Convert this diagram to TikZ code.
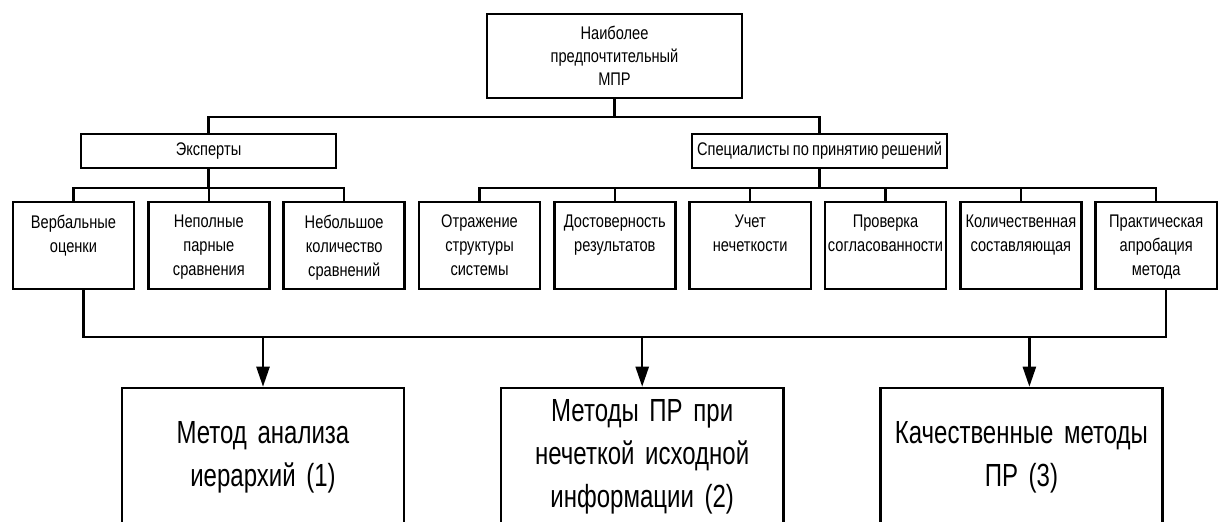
\documentclass[tikz,border=0pt]{standalone}
\usepackage{fontspec}
\setmainfont{Liberation Sans}[FakeStretch=0.8, WordSpace=0.8]
\newfontfamily\bigfont{Liberation Sans}[FakeStretch=0.75, WordSpace=0.55]
\usepackage{tikz}
\usetikzlibrary{positioning,arrows.meta}
\newcommand{\critt}[1]{\parbox[c][0.87cm][t]{1.2cm}{\centering\vspace*{1.3mm}#1}}
\tikzset{
  blk/.style={draw=black, line width=0.7pt, fill=white, align=center,
              font=\fontsize{5.2}{6.5}\selectfont},
  grp/.style={blk, minimum width=2.55cm, minimum height=0.34cm, inner sep=0pt},
  crit/.style={blk, minimum width=1.21cm, minimum height=0.87cm, inner sep=0pt,
               font=\fontsize{5.2}{6.8}\selectfont},
  meth/.style={blk, minimum width=2.82cm, minimum height=1.38cm, text width=2.6cm,
               inner xsep=0.1cm, font=\bigfont\fontsize{9.1}{12.2}\selectfont},
  link/.style={line width=0.7pt, color=black},
  arr/.style={link, -{Triangle[length=2mm, width=1.3mm]}},
}
\begin{document}
\begin{tikzpicture}[x=0.01cm, y=-0.01cm]
\useasboundingbox (0,0) rectangle (1219,522);
\clip (0,0) rectangle (1219,522);
% top level
\node[blk, minimum width=2.55cm, minimum height=0.84cm, inner sep=0pt] (mpr) at (614.5,56)
  {Наиболее\\предпочтительный\\МПР};
\node[grp] (exp) at (208.5,151) {Эксперты};
\node[grp] (spec) at (819.5,151) {Специалисты по принятию решений};
% criteria
\node[crit] (vb) at (73.5,245.5) {\critt{Вербальные\\оценки}};
\node[crit, right=0.118cm of vb] (pp) {\critt{Неполные\\парные\\сравнения}};
\node[crit, right=0.118cm of pp] (nk) {\critt{Небольшое\\количество\\сравнений}};
\node[crit, right=0.118cm of nk] (os) {\critt{Отражение\\структуры\\системы}};
\node[crit, right=0.118cm of os] (dr) {\critt{Достоверность\\результатов}};
\node[crit, right=0.118cm of dr] (un) {\critt{Учет\\нечеткости}};
\node[crit, right=0.118cm of un] (ps) {\critt{Проверка\\согласованности}};
\node[crit, right=0.118cm of ps] (kc) {\critt{Количественная\\составляющая}};
\node[crit, right=0.118cm of kc] (pa) {\critt{Практическая\\апробация\\метода}};
% methods
\node[meth] (mA) at (263,457) {Метод анализа\\иерархий (1)};
\node[meth, right=0.945cm of mA] (mB) {Методы ПР при\\нечеткой исходной\\информации (2)};
\node[meth, right=0.945cm of mB] (mC) {Качественные методы\\ПР (3)};
% tree
\draw[link] (mpr.south) -- ++(0,18) coordinate (busT);
\draw[link] (exp.north) |- (busT) -| (spec.north);
\draw[link] (exp.south) -- ++(0,19) coordinate (busE);
\draw[link] (vb.north) |- (busE) -| (nk.north);
\draw[link] (pp.north) -- (pp.north |- busE);
\draw[link] (spec.south) -- ++(0,19) coordinate (busS);
\draw[link] (os.north) |- (busS) -| (pa.north);
\foreach \n in {dr,un,ps,kc}
  \draw[link] (\n.north) -- (\n.north |- busS);
% bottom bus and arrows
\draw[link] ([xshift=1mm]vb.south) -- ++(0,47) coordinate (busB) -| ([xshift=1mm]pa.south);
\coordinate (arrC) at ([xshift=0.8mm]mC.north);
\draw[arr] (busB -| mA.north) -- (mA.north);
\draw[arr] (busB -| mB.north) -- (mB.north);
\draw[arr] (arrC |- busB) -- (arrC);
\end{tikzpicture}
\end{document}
